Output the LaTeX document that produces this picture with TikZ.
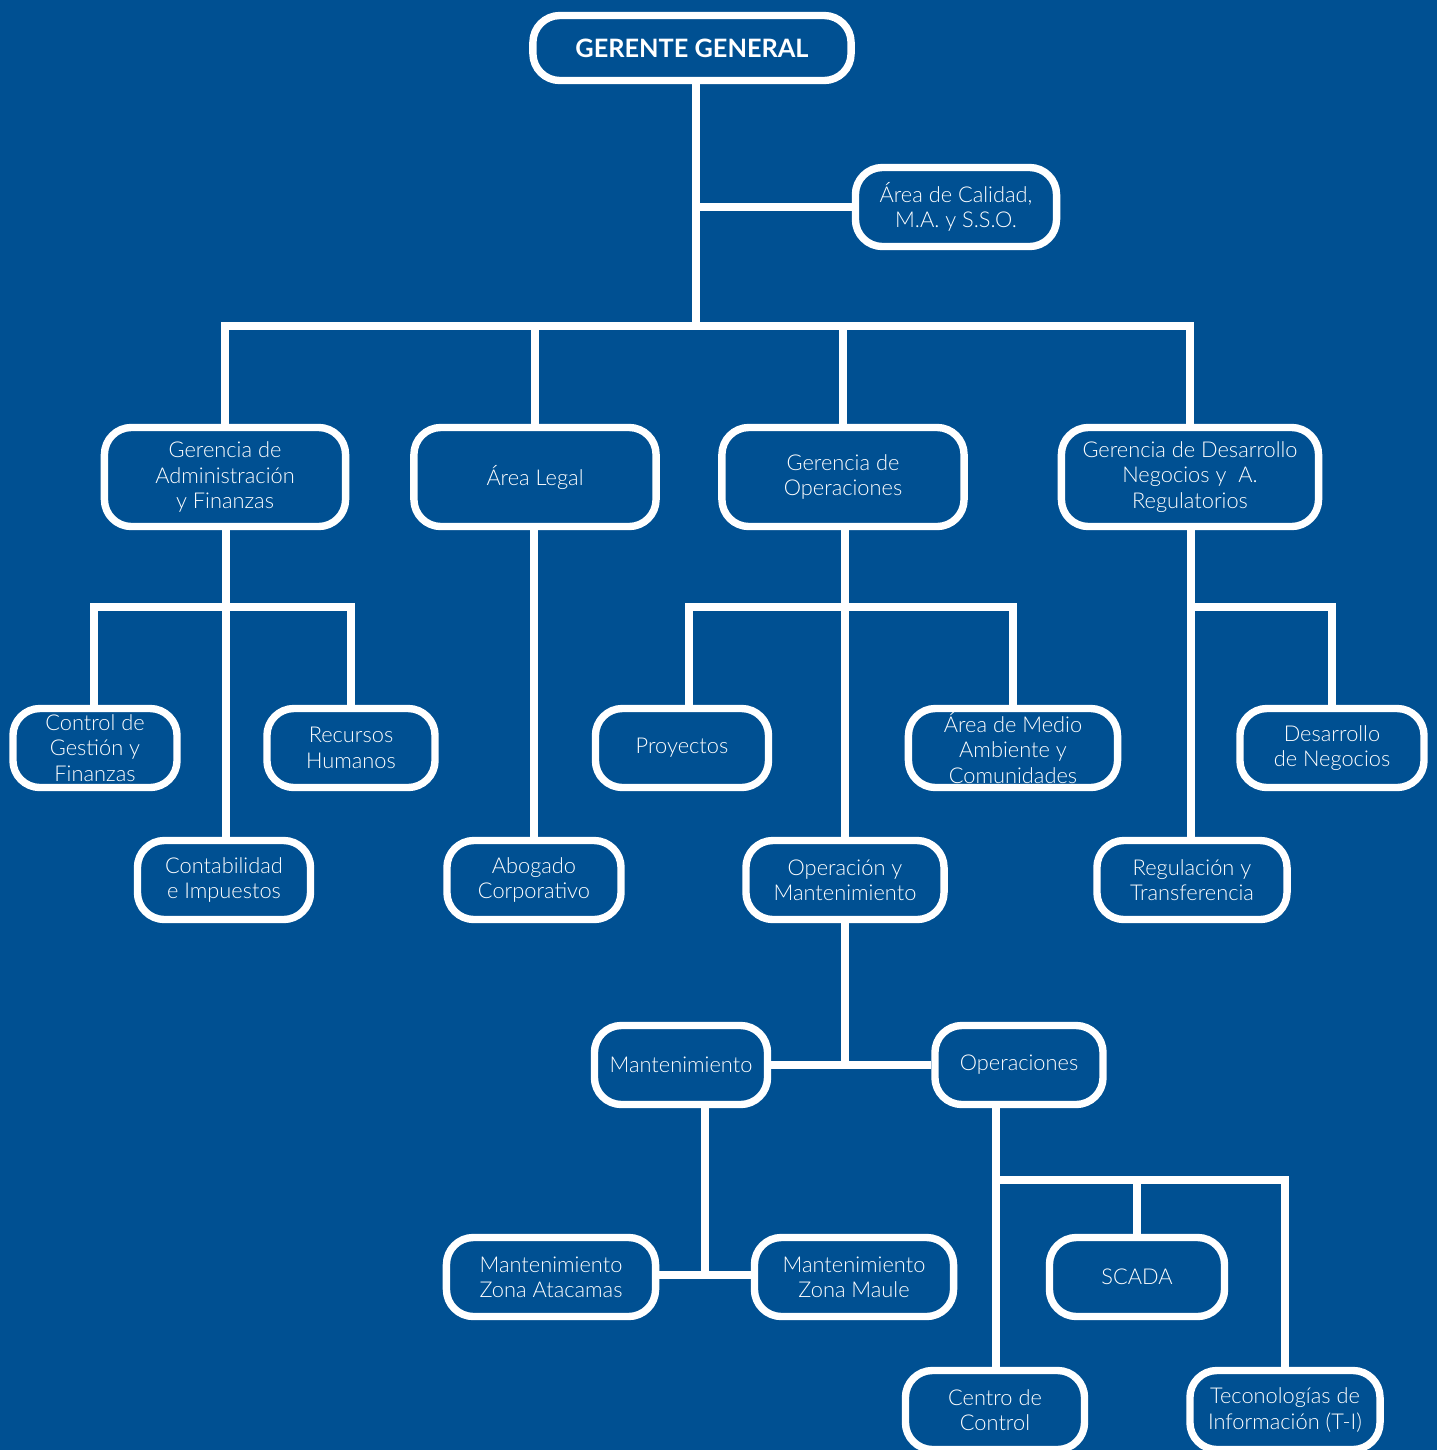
\documentclass[tikz,border=0pt]{standalone}
\usepackage{fontspec}
\setmainfont{Lato}[UprightFont=* Light, BoldFont=* Bold]
\usetikzlibrary{positioning}
\definecolor{orgblue}{RGB}{0,80,146}

\begin{document}
\begin{tikzpicture}[
        x=0.01cm, y=-0.01cm,
        unit/.style={
                rectangle,
                rounded corners=0.27cm,
                draw=white,
                fill=orgblue,
                line width=2.1pt,
                text=white,
                align=center,
                inner sep=1pt,
                minimum height=0.79cm,
                font=\fontsize{6.2}{7.2}\selectfont
            },
        big/.style = {minimum height=0.99cm},
        link/.style = {draw=white, line width=2.1pt}
    ]
    \clip (0,0) rectangle (1437,1450);
    \fill[orgblue] (0,0) rectangle (1437,1450);

    \node[unit,minimum width=3.18cm,minimum height=0.65cm,font=\fontsize{7.2}{8}\selectfont\bfseries] (gerente) at (692,48) {GERENTE GENERAL};
    \node[unit,minimum width=2.01cm] (calidad) at (956,207) {Área de Calidad,\\M.A. y S.S.O.};

    \node[unit,big,minimum width=2.41cm] (adm) at (225,477) {Gerencia de\\Administración\\y Finanzas};
    \node[unit,big,minimum width=2.42cm] (legal) at (535,477) {Área Legal};
    \node[unit,big,minimum width=2.42cm] (operaciones) at (843,477) {Gerencia de\\Operaciones};
    \node[unit,big,minimum width=2.57cm] (desarrollo) at (1190,477) {Gerencia de Desarrollo\\Negocios y~ A.\\Regulatorios};

    \node[unit,minimum width=1.64cm] (control) at (95,748) {Control de\\Gestión y\\Finanzas};
    \node[unit,minimum width=1.68cm] (rrhh) at (351,748) {Recursos\\Humanos};
    \node[unit,minimum width=1.73cm] (contabilidad) at (224,880) {Contabilidad\\e Impuestos};
    \node[unit,minimum width=1.74cm] (abogado) at (534,880) {Abogado\\Corporativo};
    \node[unit,minimum width=1.73cm] (proyectos) at (682,748) {Proyectos};
    \node[unit,minimum width=2.09cm] (medio_ambiente) at (1013,748) {Área de Medio\\Ambiente y\\Comunidades};
    \node[unit,minimum width=1.98cm] (op_mant) at (845,880) {Operación y\\Mantenimiento};
    \node[unit,minimum width=1.84cm] (des_negocios) at (1332,748) {Desarrollo\\de Negocios};
    \node[unit,minimum width=1.90cm] (regulacion) at (1192,880) {Regulación y\\Transferencia};

    \node[unit,minimum width=1.73cm] (mantenimiento) at (681,1065) {Mantenimiento};
    \node[unit,minimum width=1.68cm] (operacion) at (1019,1065) {Operaciones};

    \node[unit,minimum width=2.09cm] (atacama) at (551,1277) {Mantenimiento\\Zona Atacamas};
    \node[unit,minimum width=1.99cm] (maule) at (854,1277) {Mantenimiento\\Zona Maule};
    \node[unit,minimum width=1.75cm] (scada) at (1137,1277) {SCADA};
    \node[unit,minimum width=1.79cm] (centro) at (995,1410) {Centro de\\Control};
    \node[unit,minimum width=1.90cm] (ti) at (1285,1410) {Teconologías de\\Información (T-I)};

    % bars
    \coordinate (bar_top) at (696,326);
    \coordinate (bar_adm) at (226,607);
    \coordinate (bar_op) at (845,607);
    \coordinate (bar_des) at (1191,607);
    \coordinate (bar_sub) at (996,1180);

    \path[link] (gerente.south -| bar_top) -- (bar_top);
    \path[link] (calidad.west) -- (calidad.west -| bar_top);
    \path[link] (adm.north) |- (bar_top) -| (desarrollo.north);
    \path[link] (legal.north) -- (legal.north |- bar_top);
    \path[link] (operaciones.north) -- (operaciones.north |- bar_top);

    \path[link] (adm.south -| bar_adm) -- (contabilidad.north -| bar_adm);
    \path[link] (control.north -| 94,0) |- (bar_adm) -| (rrhh.north);
    \path[link] (legal.south -| abogado.north) -- (abogado.north);

    \path[link] (operaciones.south -| bar_op) -- (op_mant.north -| bar_op);
    \path[link] (proyectos.north -| 689,0) |- (bar_op) -| (medio_ambiente.north);

    \path[link] (desarrollo.south -| bar_des) -- (regulacion.north -| bar_des);
    \path[link] (bar_des) -| (des_negocios.north);

    \path[link] (op_mant.south) -- (op_mant.south |- mantenimiento.east);
    \path[link] (mantenimiento.east) -- (operacion.west);

    \path[link] (mantenimiento.south -| 705,0) -- (705,1275);
    \path[link] (atacama.east |- 0,1275) -- (maule.west |- 0,1275);

    \path[link] (operacion.south -| bar_sub) -- (centro.north -| bar_sub);
    \path[link] (bar_sub) -| (ti.north);
    \path[link] (scada.north) -- (scada.north |- bar_sub);
\end{tikzpicture}
\end{document}
